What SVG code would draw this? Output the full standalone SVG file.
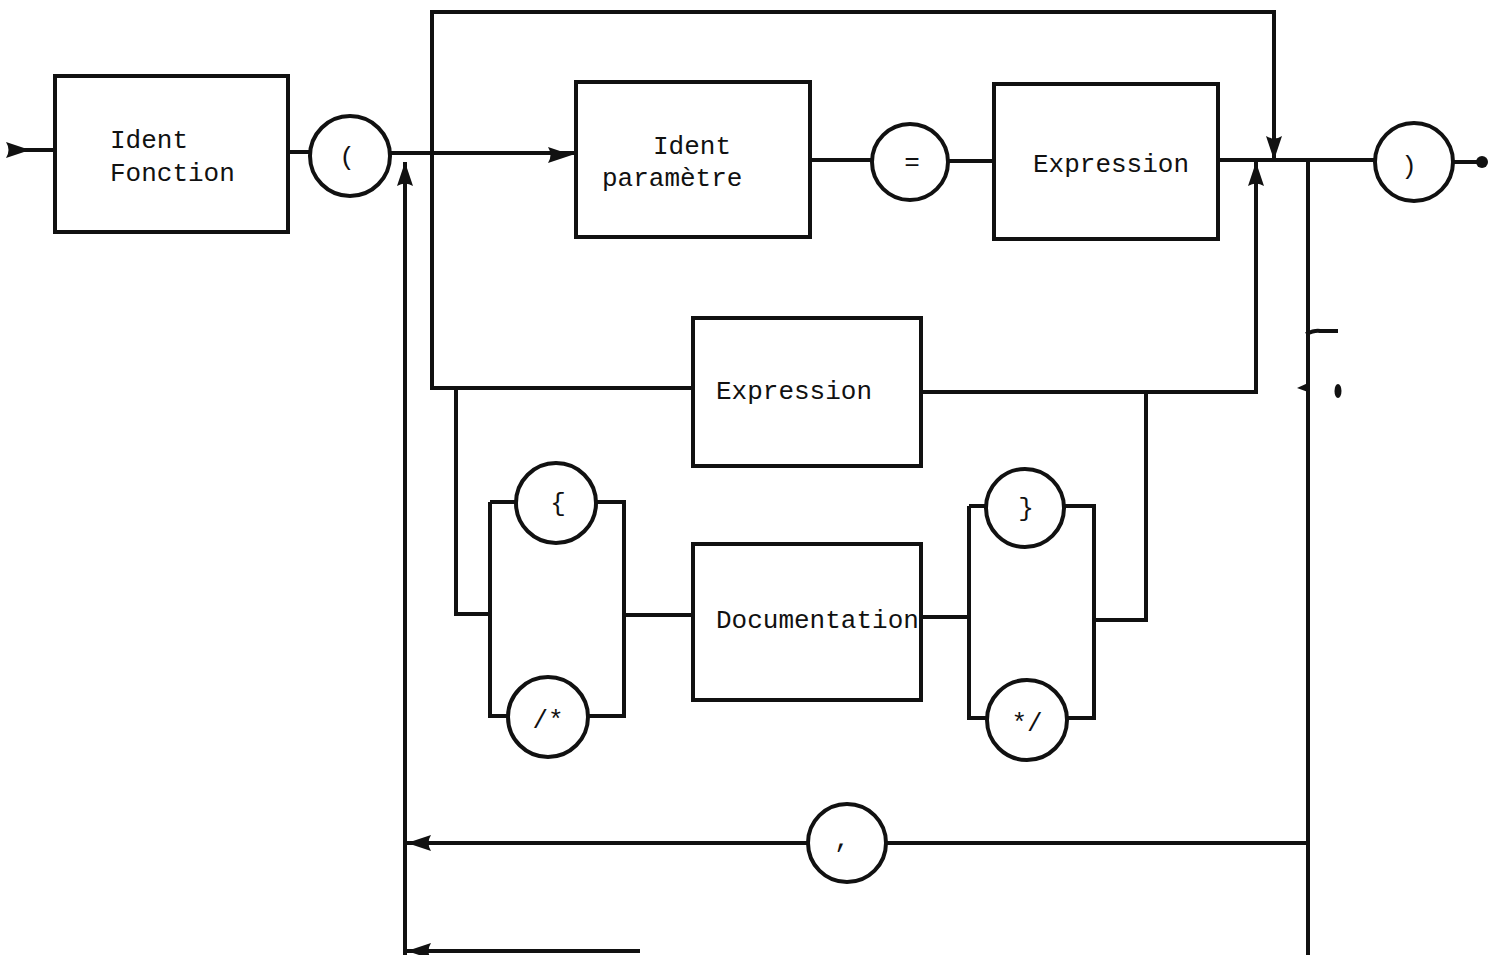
<svg xmlns="http://www.w3.org/2000/svg" width="1495" height="955" viewBox="0 0 1495 955">
<style>
.box{fill:#fff;stroke:#111;stroke-width:4}
.term{fill:#fff;stroke:#111;stroke-width:4}
.ln{fill:none;stroke:#111;stroke-width:4;stroke-linejoin:miter}
.ah{fill:#111;stroke:none}
text{font-family:"Liberation Mono","DejaVu Sans Mono",monospace;font-size:26px;fill:#111}
.c{text-anchor:middle}
</style>
<defs>
<path id="arR" d="M0,0 L-24,-8 Q-19,0 -24,8 Z"/>
</defs>
<rect width="1495" height="955" fill="#fff"/>
<g id="connectors">
<path class="ln" d="M10,150 H55"/>
<path class="ln" d="M288,152 H310"/>
<path class="ln" d="M390,153 H576"/>
<path class="ln" d="M810,160 H872"/>
<path class="ln" d="M948,161 H994"/>
<path class="ln" d="M1218,160 H1375"/>
<path class="ln" d="M1453,162 H1482"/>
<path class="ln" d="M432,153 V12 H1274 V158"/>
<path class="ln" d="M432,153 V388 H693"/>
<path class="ln" d="M921,392 H1256 V162"/>
<path class="ln" d="M456,388 V614 H490"/>
<path class="ln" d="M490,502 H516 M596,502 H624 V716 H588 M508,716 H490 V502"/>
<path class="ln" d="M624,615 H693"/>
<path class="ln" d="M921,617 H969"/>
<path class="ln" d="M969,506 H986 M1064,506 H1094 V718 H1066 M988,718 H969 V506"/>
<path class="ln" d="M1094,620 H1146 V392"/>
<path class="ln" d="M1308,160 V955"/>
<path class="ln" d="M1308,843 H886"/>
<path class="ln" d="M808,843 H405"/>
<path class="ln" d="M405,955 V162"/>
<path class="ln" d="M405,951 H640"/>
<use href="#arR" class="ah" transform="translate(30,150)"/>
<use href="#arR" class="ah" transform="translate(572,155)"/>
<use href="#arR" class="ah" transform="translate(1274,160) rotate(90)"/>
<use href="#arR" class="ah" transform="translate(1256,162) rotate(-90)"/>
<use href="#arR" class="ah" transform="translate(405,162) rotate(-90)"/>
<use href="#arR" class="ah" transform="translate(407,843) rotate(180)"/>
<use href="#arR" class="ah" transform="translate(407,951) rotate(180)"/>
<circle class="ah" cx="1482" cy="162" r="6"/>
<path class="ln" d="M1306,334 Q1315,330 1320,331 H1338" stroke-width="3"/>
<path class="ah" d="M1297,388 L1308,383 L1308,392 Z"/>
<ellipse class="ah" cx="1338" cy="391" rx="3.5" ry="7"/>
</g>
<g id="n-ident-fonction">
<rect class="box" x="55" y="76" width="233" height="156"/>
<text x="110" y="148">Ident</text>
<text x="110" y="181">Fonction</text>
</g>
<g id="n-lparen">
<circle class="term" cx="350" cy="156" r="40"/>
<text class="c" x="347" y="165">(</text>
</g>
<g id="n-ident-param">
<rect class="box" x="576" y="82" width="234" height="155"/>
<text x="653" y="154">Ident</text>
<text x="602" y="186">paramètre</text>
</g>
<g id="n-eq">
<circle class="term" cx="910" cy="162" r="38"/>
<text class="c" x="912" y="170">=</text>
</g>
<g id="n-expr1">
<rect class="box" x="994" y="84" width="224" height="155"/>
<text x="1033" y="172">Expression</text>
</g>
<g id="n-rparen">
<circle class="term" cx="1414" cy="162" r="39"/>
<text class="c" x="1409" y="174">)</text>
</g>
<g id="n-expr2">
<rect class="box" x="693" y="318" width="228" height="148"/>
<text x="716" y="399">Expression</text>
</g>
<g id="n-lbrace">
<circle class="term" cx="556" cy="503" r="40"/>
<text class="c" x="558" y="511">{</text>
</g>
<g id="n-lcomment">
<circle class="term" cx="548" cy="717" r="40"/>
<text class="c" x="548" y="728">/*</text>
</g>
<g id="n-doc">
<rect class="box" x="693" y="544" width="228" height="156"/>
<text x="716" y="628">Documentation</text>
</g>
<g id="n-rbrace">
<circle class="term" cx="1025" cy="508" r="39"/>
<text class="c" x="1026" y="516">}</text>
</g>
<g id="n-rcomment">
<circle class="term" cx="1027" cy="720" r="40"/>
<text class="c" x="1027" y="731">*/</text>
</g>
<g id="n-comma">
<circle class="term" cx="847" cy="843" r="39"/>
<text class="c" x="842" y="847">,</text>
</g>
</svg>
